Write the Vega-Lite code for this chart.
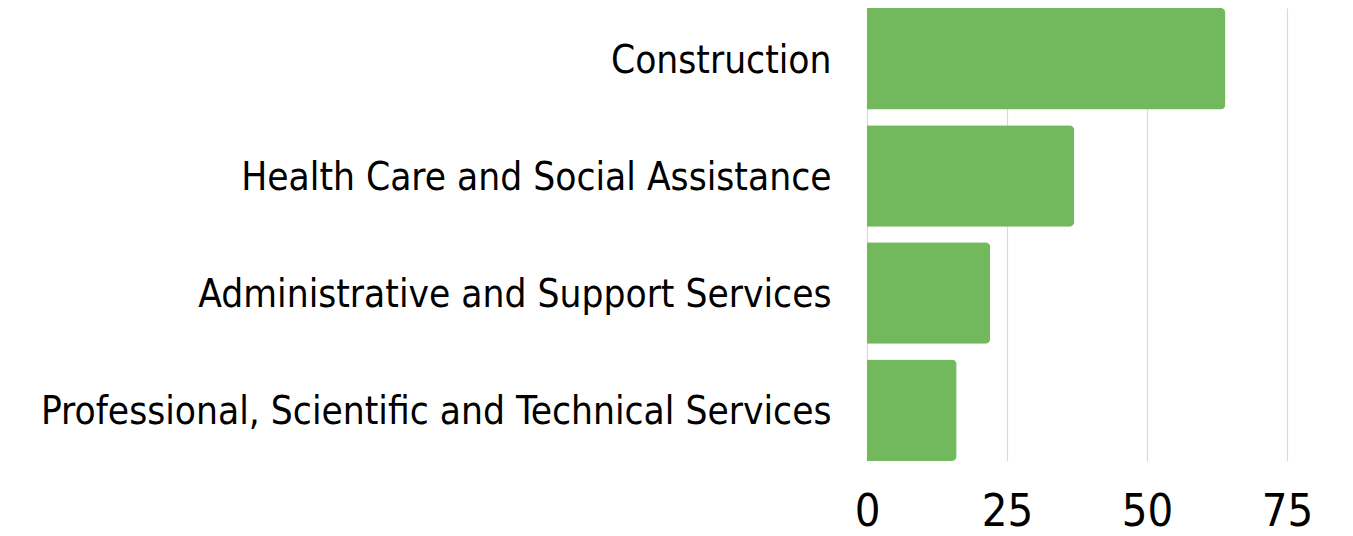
{
  "$schema": "https://vega.github.io/schema/vega-lite/v6.json",
  "autosize": {"type": "none"},
  "padding": {"left": 867, "top": 8, "right": 66, "bottom": 75},
  "width": 420,
  "height": 453,
  "background": "white",
  "config": {
    "view": {"stroke": null},
    "font": "DejaVu Sans Condensed"
  },
  "data": {
    "values": [
      {"industry": "Construction", "value": 64},
      {"industry": "Health Care and Social Assistance", "value": 37},
      {"industry": "Administrative and Support Services", "value": 22},
      {"industry": "Professional, Scientific and Technical Services", "value": 16}
    ]
  },
  "mark": {"type": "bar", "color": "#72b85c", "cornerRadiusEnd": 5},
  "encoding": {
    "y": {
      "field": "industry",
      "type": "nominal",
      "sort": null,
      "scale": {"paddingInner": 0.134, "paddingOuter": 0},
      "axis": {
        "title": null,
        "domain": false,
        "ticks": false,
        "labelFont": "DejaVu Sans Condensed",
        "labelFontSize": 38.5,
        "labelColor": "#000000",
        "labelPadding": 36,
        "labelOffset": 2,
        "labelLimit": 900
      }
    },
    "x": {
      "field": "value",
      "type": "quantitative",
      "scale": {"domain": [0, 75], "nice": false},
      "axis": {
        "title": null,
        "values": [0, 25, 50, 75],
        "domain": false,
        "ticks": false,
        "grid": true,
        "gridColor": "#d9d9d9",
        "gridWidth": 1.2,
        "labelFont": "DejaVu Sans Condensed",
        "labelFontSize": 45,
        "labelColor": "#000000",
        "labelPadding": 28,
        "labelFlush": false
      }
    }
  }
}
